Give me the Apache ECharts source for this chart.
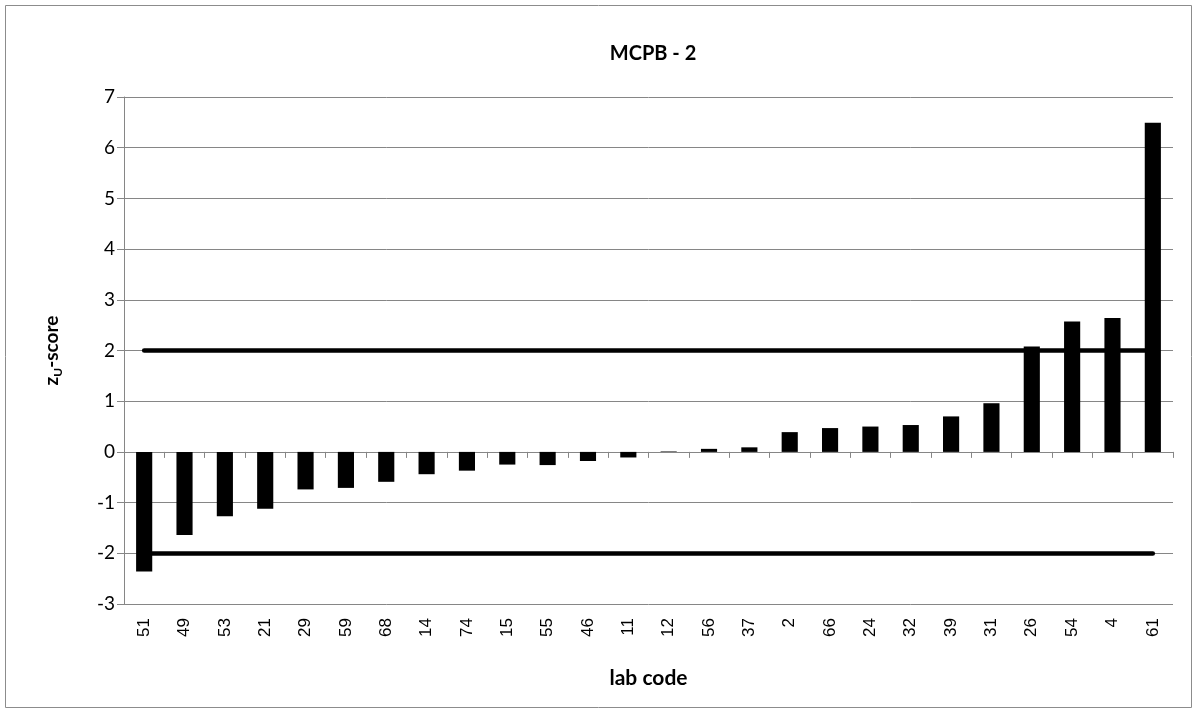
<!DOCTYPE html>
<html>
<head>
<meta charset="utf-8">
<script src="https://cdn.jsdelivr.net/npm/echarts@6/dist/echarts.min.js"></script>
<style>
html,body{margin:0;padding:0;background:#fff;}
#c{width:1197px;height:713px;}
</style>
</head>
<body>
<div id="c"></div>
<script>
const categories = ['51','49','53','21','29','59','68','14','74','15','55','46','11','12','56','37','2','66','24','32','39','31','26','54','4','61'];
const zScores = [-2.36,-1.64,-1.27,-1.12,-0.74,-0.71,-0.59,-0.44,-0.37,-0.25,-0.26,-0.18,-0.11,0.01,0.06,0.09,0.39,0.47,0.50,0.53,0.70,0.96,2.08,2.57,2.64,6.49];
const limits = [2, -2];
const yTicks = {min: -3, max: 7, step: 1};

const chart = echarts.init(document.getElementById('c'), null, {renderer: 'canvas'});
const calib = 'Lato, "Open Sans", sans-serif';
const first = categories[0], last = categories[categories.length - 1];

chart.setOption({
  animation: false,
  backgroundColor: '#ffffff',
  title: {
    text: 'MCPB - 2',
    left: 648, top: 39, textAlign: 'center',
    textStyle: {fontFamily: calib, fontSize: 20, fontWeight: 'bold', color: '#000'}
  },
  graphic: [{
    type: 'rect', shape: {x: 5.5, y: 5.5, width: 1186, height: 702},
    style: {fill: 'none', stroke: '#8c8c8c', lineWidth: 1}, silent: true, z: -1
  }],
  grid: {left: 124, right: 24, top: 97, bottom: 109, containLabel: false},
  xAxis: [{
    type: 'category', data: categories, position: 'bottom',
    axisLine: {onZero: true, lineStyle: {color: '#868686', width: 1}},
    axisTick: {show: true, alignWithLabel: false, length: 6, lineStyle: {color: '#868686'}},
    axisLabel: {show: false},
    splitLine: {show: false}
  }, {
    type: 'category', data: categories, position: 'bottom',
    axisLine: {show: false, onZero: false},
    axisTick: {show: false},
    axisLabel: {show: true, rotate: 90, margin: 14, interval: 0,
      fontFamily: '"Liberation Sans", Arial, sans-serif', fontSize: 17, color: '#000'},
    name: 'lab code', nameLocation: 'middle', nameGap: 64,
    nameTextStyle: {fontFamily: calib, fontSize: 21, fontWeight: 'bold', color: '#000'}
  }],
  yAxis: {
    type: 'value', min: yTicks.min, max: yTicks.max, interval: yTicks.step,
    axisLine: {show: true, onZero: false, lineStyle: {color: '#868686'}},
    axisTick: {show: true, length: 7, lineStyle: {color: '#868686'}},
    axisLabel: {margin: 9, fontFamily: calib, fontSize: 19, color: '#000'},
    splitLine: {show: true, lineStyle: {color: '#868686', width: 1}},
    name: '{a|z}{s|U}{a|-score}', nameLocation: 'middle', nameRotate: 90, nameGap: 60,
    nameTextStyle: {
      rich: {
        a: {fontFamily: calib, fontSize: 19, fontWeight: 'bold', color: '#000', lineHeight: 24, verticalAlign: 'middle'},
        s: {fontFamily: calib, fontSize: 12, fontWeight: 'bold', color: '#000', lineHeight: 24, verticalAlign: 'bottom', padding: [9, 0, 0, 0]}
      }
    }
  },
  series: [{
    type: 'bar', data: zScores, xAxisIndex: 0,
    barCategoryGap: '60%',
    itemStyle: {color: '#000000'},
    markLine: {
      silent: true, symbol: 'none', label: {show: false},
      lineStyle: {color: '#000', width: 4.5, type: 'solid', cap: 'round'},
      data: limits.map(v => [{coord: [first, v]}, {coord: [last, v]}])
    }
  }]
});
</script>
</body>
</html>
